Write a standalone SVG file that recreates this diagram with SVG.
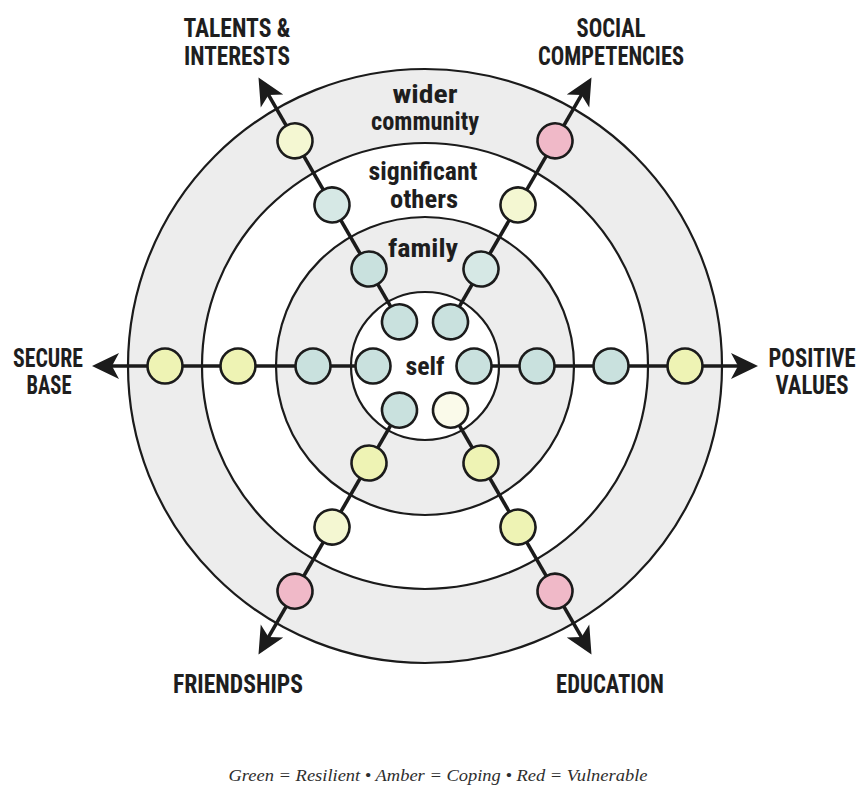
<svg xmlns="http://www.w3.org/2000/svg" width="862" height="796" viewBox="0 0 862 796">
  <style>
    .ring { stroke: #1b1b1b; stroke-width: 2.2; }
    .band { fill: #ededed; }
    .gap { fill: #ffffff; }
    .axis { stroke: #1b1b1b; stroke-width: 3.6; fill: none; marker-end: url(#arrow); }
    .node { stroke: #1b1b1b; stroke-width: 2.6; }
    .green { fill: #c9e1de; }
    .green-pale { fill: #d6e8e5; }
    .amber { fill: #eef3b4; }
    .amber-pale { fill: #f4f7d2; }
    .ivory { fill: #fafaea; }
    .red { fill: #f0b9c8; }
    .head { font-family: "Liberation Sans Narrow", "Roboto Condensed", "Liberation Sans", sans-serif; font-weight: bold; font-size: 26px; fill: #1e1e1e; text-anchor: middle; }
    .ringlabel { font-family: "Liberation Sans Narrow", "Roboto Condensed", "Liberation Sans", sans-serif; font-weight: bold; font-size: 26px; fill: #1e1e1e; text-anchor: middle; }
    .legend { font-family: "Liberation Serif", serif; font-style: italic; font-size: 17px; fill: #2e2e2e; text-anchor: middle; }
  </style>
  <defs>
    <marker id="arrow" viewBox="0 0 28 28" refX="20" refY="14" markerWidth="28" markerHeight="28" markerUnits="userSpaceOnUse" orient="auto">
      <path d="M27,14 L0,1 L7,14 L0,27 Z" fill="#1b1b1b"/>
    </marker>
  </defs>

  <rect width="862" height="796" fill="#ffffff"/>

  <!-- concentric rings: wider community, significant others, family, self -->
  <g id="rings">
    <circle class="ring band" cx="425" cy="366" r="297"/>
    <circle class="ring gap" cx="425" cy="366" r="223"/>
    <circle class="ring band" cx="425" cy="366" r="149"/>
    <circle class="ring gap" cx="425" cy="366" r="74"/>
  </g>

  <!-- ring names -->
  <g id="ring-labels">
    <text class="ringlabel" x="425" y="103" textLength="65" lengthAdjust="spacingAndGlyphs">wider</text>
    <text class="ringlabel" x="425" y="130" textLength="108" lengthAdjust="spacingAndGlyphs">community</text>
    <text class="ringlabel" x="423" y="180" textLength="109" lengthAdjust="spacingAndGlyphs">significant</text>
    <text class="ringlabel" x="424" y="208" textLength="68" lengthAdjust="spacingAndGlyphs">others</text>
    <text class="ringlabel" x="423" y="257" textLength="70" lengthAdjust="spacingAndGlyphs">family</text>
    <text class="ringlabel" x="425" y="375" textLength="39" lengthAdjust="spacingAndGlyphs">self</text>
  </g>

  <!-- six domain axes with arrowheads -->
  <g id="connectors">
    <line class="axis" x1="476" y1="366" x2="751" y2="366" transform="rotate(0 425 366)"/>
    <line class="axis" x1="476" y1="366" x2="751" y2="366" transform="rotate(60 425 366)"/>
    <line class="axis" x1="476" y1="366" x2="751" y2="366" transform="rotate(120 425 366)"/>
    <line class="axis" x1="476" y1="366" x2="751" y2="366" transform="rotate(180 425 366)"/>
    <line class="axis" x1="476" y1="366" x2="751" y2="366" transform="rotate(240 425 366)"/>
    <line class="axis" x1="476" y1="366" x2="751" y2="366" transform="rotate(300 425 366)"/>
  </g>

  <!-- rating dots along each axis: self, family, significant others, wider community -->
  <g id="positive-values" transform="rotate(0 425 366)">
    <circle id="pv-self" class="node green" cx="474" cy="366" r="17.5"/>
    <circle id="pv-family" class="node green" cx="537" cy="366" r="17.5"/>
    <circle id="pv-others" class="node green" cx="611" cy="366" r="17.5"/>
    <circle id="pv-community" class="node amber" cx="685" cy="366" r="17.5"/>
  </g>
  <g id="education" transform="rotate(60 425 366)">
    <circle id="ed-self" class="node ivory" cx="476" cy="366" r="17.5"/>
    <circle id="ed-family" class="node amber" cx="537" cy="366" r="17.5"/>
    <circle id="ed-others" class="node amber" cx="611" cy="366" r="17.5"/>
    <circle id="ed-community" class="node red" cx="685" cy="366" r="17.5"/>
  </g>
  <g id="friendships" transform="rotate(120 425 366)">
    <circle id="fr-self" class="node green" cx="476" cy="366" r="17.5"/>
    <circle id="fr-family" class="node amber" cx="537" cy="366" r="17.5"/>
    <circle id="fr-others" class="node amber-pale" cx="611" cy="366" r="17.5"/>
    <circle id="fr-community" class="node red" cx="685" cy="366" r="17.5"/>
  </g>
  <g id="secure-base" transform="rotate(180 425 366)">
    <circle id="sb-self" class="node green" cx="477" cy="366" r="17.5"/>
    <circle id="sb-family" class="node green" cx="537" cy="366" r="17.5"/>
    <circle id="sb-others" class="node amber" cx="612" cy="366" r="17.5"/>
    <circle id="sb-community" class="node amber" cx="685" cy="366" r="17.5"/>
  </g>
  <g id="talents-interests" transform="rotate(240 425 366)">
    <circle id="ti-self" class="node green" cx="476" cy="366" r="17.5"/>
    <circle id="ti-family" class="node green" cx="537" cy="366" r="17.5"/>
    <circle id="ti-others" class="node green-pale" cx="611" cy="366" r="17.5"/>
    <circle id="ti-community" class="node amber-pale" cx="685" cy="366" r="17.5"/>
  </g>
  <g id="social-competencies" transform="rotate(300 425 366)">
    <circle id="sc-self" class="node green" cx="476" cy="366" r="17.5"/>
    <circle id="sc-family" class="node green-pale" cx="537" cy="366" r="17.5"/>
    <circle id="sc-others" class="node amber-pale" cx="611" cy="366" r="17.5"/>
    <circle id="sc-community" class="node red" cx="685" cy="366" r="17.5"/>
  </g>

  <!-- domain names -->
  <g id="label-talents">
    <text class="head" x="237" y="37" textLength="107" lengthAdjust="spacingAndGlyphs">TALENTS &amp;</text>
    <text class="head" x="237" y="65" textLength="106" lengthAdjust="spacingAndGlyphs">INTERESTS</text>
  </g>
  <g id="label-social">
    <text class="head" x="611" y="37" textLength="69" lengthAdjust="spacingAndGlyphs">SOCIAL</text>
    <text class="head" x="611" y="65" textLength="146" lengthAdjust="spacingAndGlyphs">COMPETENCIES</text>
  </g>
  <g id="label-secure">
    <text class="head" x="48" y="367" textLength="70" lengthAdjust="spacingAndGlyphs">SECURE</text>
    <text class="head" x="49" y="394" textLength="45" lengthAdjust="spacingAndGlyphs">BASE</text>
  </g>
  <g id="label-values">
    <text class="head" x="812" y="367" textLength="87" lengthAdjust="spacingAndGlyphs">POSITIVE</text>
    <text class="head" x="812" y="394" textLength="73" lengthAdjust="spacingAndGlyphs">VALUES</text>
  </g>
  <g id="label-friendships">
    <text class="head" x="238" y="693" textLength="130" lengthAdjust="spacingAndGlyphs">FRIENDSHIPS</text>
  </g>
  <g id="label-education">
    <text class="head" x="610" y="693" textLength="108" lengthAdjust="spacingAndGlyphs">EDUCATION</text>
  </g>

  <text class="legend" x="438" y="781" textLength="419" lengthAdjust="spacingAndGlyphs">Green = Resilient • Amber = Coping • Red = Vulnerable</text>
</svg>
